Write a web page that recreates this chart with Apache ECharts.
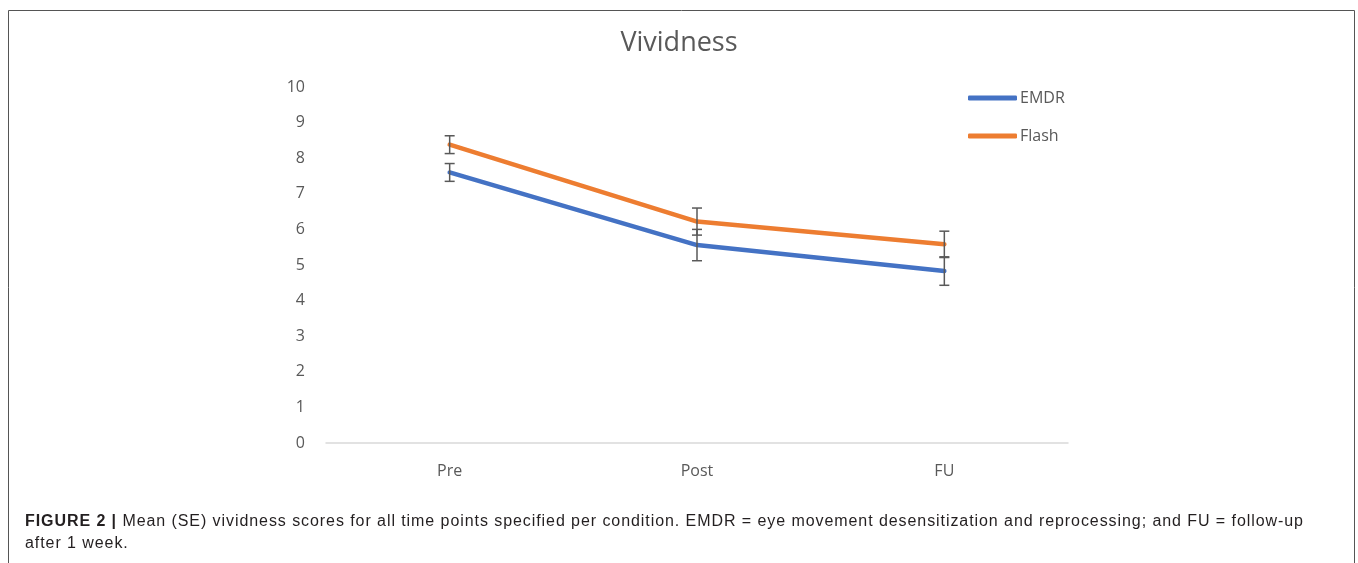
<!DOCTYPE html>
<html>
<head>
<meta charset="utf-8">
<script src="https://cdn.jsdelivr.net/npm/echarts@6/dist/echarts.min.js"></script>
<style>
html,body{margin:0;padding:0;background:#fff;}
#wrap{position:relative;width:1358px;height:563px;}
#main{width:1358px;height:563px;}
#caption{position:absolute;left:25px;top:510px;font-family:'Liberation Sans',Arial,sans-serif;font-size:16px;letter-spacing:0.93px;line-height:22px;color:#231f20;white-space:pre;}
#caption b{font-weight:bold;}
</style>
</head>
<body>
<div id="wrap">
<div id="main"></div>
<div id="caption"></div>
</div>
<script>
// ---- data ----
const categories = ['Pre', 'Post', 'FU'];
const emdrMean = [7.60, 5.56, 4.83];
const emdrSE = [0.25, 0.44, 0.40];
const flashMean = [8.38, 6.22, 5.58];
const flashSE = [0.25, 0.38, 0.37];
const yTicks = [0, 1, 2, 3, 4, 5, 6, 7, 8, 9, 10];
const titleText = 'Vividness';
const captionBold = 'FIGURE 2 |';
const captionLine1 = ' Mean (SE) vividness scores for all time points specified per condition. EMDR = eye movement desensitization and reprocessing; and FU = follow-up';
const captionLine2 = 'after 1 week.';

const cap = document.getElementById('caption');
const b = document.createElement('b');
b.textContent = captionBold;
cap.appendChild(b);
cap.appendChild(document.createTextNode(captionLine1 + '\n' + captionLine2));

const chart = echarts.init(document.getElementById('main'));
const font = 'Open Sans';
const gray = '#595959';

function errData(mean, se) {
  return mean.map((m, i) => [i, m - se[i], m + se[i]]);
}
function errRender(params, api) {
  const x = api.value(0);
  const lo = api.coord([x, api.value(1)]);
  const hi = api.coord([x, api.value(2)]);
  const w = 5;
  const st = { stroke: gray, lineWidth: 1.5 };
  return {
    type: 'group',
    children: [
      { type: 'line', shape: { x1: lo[0], y1: lo[1], x2: hi[0], y2: hi[1] }, style: st },
      { type: 'line', shape: { x1: lo[0] - w, y1: lo[1], x2: lo[0] + w, y2: lo[1] }, style: st },
      { type: 'line', shape: { x1: hi[0] - w, y1: hi[1], x2: hi[0] + w, y2: hi[1] }, style: st }
    ]
  };
}

chart.setOption({
  animation: false,
  title: {
    text: titleText,
    left: 'center',
    top: 25,
    textStyle: { fontFamily: font, fontSize: 27, fontWeight: 'normal', color: gray }
  },
  legend: {
    orient: 'vertical',
    left: 968,
    top: 90,
    padding: 0,
    itemWidth: 49,
    itemHeight: 5,
    itemGap: 22,
    icon: 'roundRect',
    data: ['EMDR', 'Flash'],
    textStyle: { fontFamily: font, fontSize: 16, color: gray, padding: [0, 0, 0, -2] }
  },
  grid: { left: 326, right: 290, top: 87, bottom: 120 },
  xAxis: {
    type: 'category',
    data: categories,
    boundaryGap: true,
    axisLine: { lineStyle: { color: '#d9d9d9', width: 1.5 } },
    axisTick: { show: false },
    axisLabel: { fontFamily: font, fontSize: 16, color: gray, margin: 20 }
  },
  yAxis: {
    type: 'value',
    min: yTicks[0],
    max: yTicks[yTicks.length - 1],
    interval: 1,
    splitLine: { show: false },
    axisLine: { show: false },
    axisTick: { show: false },
    axisLabel: { fontFamily: font, fontSize: 16, color: gray, margin: 21 }
  },
  series: [
    {
      name: 'EMDR', type: 'line', data: emdrMean, symbol: 'none',
      color: '#4472C4',
      lineStyle: { width: 4.5, cap: 'round', join: 'round' }, z: 2
    },
    {
      name: 'Flash', type: 'line', data: flashMean, symbol: 'none',
      color: '#ED7D31',
      lineStyle: { width: 4.5, cap: 'round', join: 'round' }, z: 2
    },
    {
      name: 'EMDR err', type: 'custom', data: errData(emdrMean, emdrSE),
      renderItem: errRender, z: 3, silent: true
    },
    {
      name: 'Flash err', type: 'custom', data: errData(flashMean, flashSE),
      renderItem: errRender, z: 3, silent: true
    }
  ],
  graphic: [
    {
      type: 'rect', silent: true,
      shape: { x: 8.5, y: 10.5, width: 1346, height: 580 },
      style: { fill: null, stroke: '#555', lineWidth: 1 }
    }
  ]
});
</script>
</body>
</html>
